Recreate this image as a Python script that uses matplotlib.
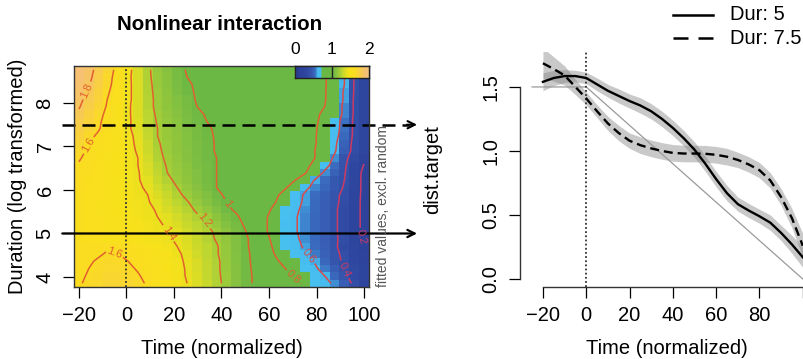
import numpy as np
import matplotlib
matplotlib.use("Agg")
import matplotlib.pyplot as plt
from matplotlib.colors import LinearSegmentedColormap
from matplotlib.lines import Line2D

plt.rcParams['font.family'] = ['Liberation Sans', 'DejaVu Sans']

# left panel: fitted surface on a 30 x 30 grid (rows listed top -> bottom)
time_grid = np.linspace(-20, 100, 30)
dur_grid = np.linspace(3.855, 8.765, 30)
fit = np.array([
    [1.91,1.84,1.76,1.66,1.55,1.44,1.33,1.22,1.15,1.10,1.04,0.99,0.98,0.97,0.96,0.94,0.93,0.92,0.90,0.89,0.88,0.86,0.85,0.84,0.82,0.81,0.76,0.60,0.40,0.28],
    [1.90,1.83,1.74,1.64,1.54,1.43,1.33,1.22,1.16,1.11,1.05,1.00,0.99,0.97,0.96,0.95,0.93,0.92,0.90,0.89,0.88,0.86,0.85,0.84,0.82,0.81,0.75,0.60,0.40,0.28],
    [1.87,1.81,1.72,1.63,1.53,1.43,1.34,1.23,1.16,1.11,1.06,1.01,0.99,0.98,0.96,0.95,0.93,0.92,0.91,0.89,0.88,0.86,0.85,0.84,0.82,0.81,0.74,0.60,0.39,0.28],
    [1.85,1.78,1.70,1.61,1.52,1.43,1.34,1.23,1.17,1.12,1.07,1.02,0.99,0.98,0.97,0.95,0.94,0.92,0.91,0.89,0.88,0.87,0.85,0.84,0.82,0.81,0.72,0.58,0.39,0.28],
    [1.83,1.76,1.68,1.59,1.51,1.43,1.34,1.24,1.17,1.13,1.08,1.04,0.99,0.98,0.97,0.95,0.94,0.92,0.91,0.89,0.88,0.87,0.85,0.84,0.82,0.81,0.72,0.58,0.38,0.28],
    [1.81,1.74,1.66,1.58,1.50,1.42,1.34,1.24,1.17,1.13,1.09,1.05,1.00,0.99,0.97,0.96,0.94,0.93,0.91,0.90,0.88,0.87,0.85,0.83,0.82,0.80,0.72,0.56,0.38,0.28],
    [1.78,1.71,1.64,1.56,1.49,1.42,1.34,1.25,1.18,1.14,1.10,1.06,1.02,0.99,0.98,0.96,0.94,0.93,0.91,0.90,0.88,0.86,0.85,0.83,0.81,0.79,0.72,0.56,0.38,0.28],
    [1.75,1.68,1.62,1.55,1.49,1.42,1.35,1.26,1.19,1.15,1.11,1.07,1.03,1.00,0.98,0.96,0.95,0.93,0.91,0.90,0.88,0.86,0.85,0.83,0.81,0.78,0.67,0.54,0.37,0.28],
    [1.72,1.66,1.61,1.54,1.48,1.42,1.35,1.27,1.20,1.16,1.12,1.08,1.05,1.01,0.99,0.97,0.95,0.93,0.92,0.90,0.88,0.86,0.85,0.83,0.81,0.76,0.66,0.54,0.37,0.28],
    [1.69,1.63,1.58,1.53,1.48,1.43,1.37,1.28,1.20,1.16,1.13,1.09,1.05,1.02,0.99,0.97,0.96,0.94,0.92,0.90,0.88,0.86,0.84,0.83,0.81,0.74,0.65,0.52,0.37,0.28],
    [1.66,1.60,1.55,1.51,1.47,1.43,1.38,1.30,1.21,1.17,1.13,1.09,1.06,1.03,0.99,0.98,0.96,0.94,0.92,0.90,0.88,0.86,0.84,0.82,0.81,0.73,0.63,0.49,0.36,0.28],
    [1.64,1.58,1.55,1.51,1.47,1.43,1.39,1.30,1.22,1.17,1.13,1.10,1.06,1.03,0.99,0.98,0.96,0.94,0.92,0.90,0.88,0.86,0.84,0.82,0.80,0.72,0.62,0.47,0.36,0.28],
    [1.61,1.57,1.54,1.50,1.47,1.43,1.40,1.32,1.23,1.18,1.14,1.10,1.07,1.03,1.00,0.98,0.96,0.94,0.92,0.90,0.88,0.86,0.84,0.82,0.80,0.71,0.57,0.44,0.33,0.24],
    [1.59,1.56,1.53,1.50,1.46,1.43,1.40,1.33,1.25,1.19,1.15,1.11,1.07,1.04,1.00,0.98,0.96,0.94,0.92,0.90,0.87,0.85,0.84,0.82,0.78,0.66,0.53,0.42,0.31,0.19],
    [1.58,1.56,1.53,1.50,1.47,1.43,1.41,1.34,1.27,1.20,1.16,1.12,1.08,1.04,1.00,0.98,0.96,0.94,0.91,0.89,0.87,0.85,0.83,0.81,0.71,0.57,0.49,0.41,0.29,0.16],
    [1.57,1.54,1.51,1.49,1.46,1.43,1.41,1.36,1.29,1.23,1.17,1.13,1.08,1.04,1.00,0.98,0.95,0.93,0.90,0.88,0.85,0.83,0.80,0.71,0.59,0.53,0.46,0.40,0.28,0.16],
    [1.56,1.53,1.51,1.49,1.46,1.44,1.42,1.38,1.32,1.26,1.20,1.15,1.10,1.05,1.00,0.97,0.95,0.92,0.89,0.86,0.84,0.81,0.74,0.63,0.56,0.50,0.45,0.39,0.28,0.16],
    [1.55,1.53,1.51,1.48,1.46,1.44,1.42,1.40,1.34,1.29,1.23,1.17,1.12,1.08,1.03,0.98,0.95,0.92,0.88,0.85,0.82,0.76,0.67,0.58,0.53,0.48,0.43,0.37,0.27,0.16],
    [1.54,1.52,1.50,1.48,1.46,1.44,1.43,1.41,1.36,1.31,1.26,1.21,1.15,1.10,1.05,1.00,0.96,0.92,0.88,0.84,0.80,0.72,0.64,0.58,0.52,0.47,0.43,0.36,0.26,0.16],
    [1.54,1.52,1.50,1.49,1.47,1.45,1.43,1.42,1.39,1.33,1.29,1.24,1.18,1.14,1.08,1.03,0.98,0.93,0.88,0.83,0.77,0.69,0.62,0.57,0.52,0.47,0.42,0.35,0.26,0.16],
    [1.54,1.52,1.51,1.49,1.47,1.46,1.44,1.42,1.40,1.36,1.32,1.27,1.22,1.18,1.12,1.07,1.02,0.95,0.88,0.81,0.75,0.68,0.61,0.56,0.51,0.47,0.42,0.35,0.26,0.16],
    [1.54,1.53,1.51,1.49,1.48,1.46,1.45,1.43,1.41,1.39,1.34,1.29,1.25,1.20,1.15,1.09,1.04,0.98,0.89,0.81,0.74,0.67,0.61,0.56,0.51,0.47,0.42,0.35,0.26,0.16],
    [1.54,1.53,1.51,1.50,1.48,1.47,1.45,1.43,1.42,1.40,1.36,1.32,1.27,1.23,1.18,1.12,1.06,1.00,0.90,0.81,0.75,0.68,0.61,0.56,0.51,0.47,0.42,0.35,0.26,0.16],
    [1.54,1.53,1.52,1.50,1.49,1.47,1.46,1.44,1.43,1.41,1.39,1.34,1.29,1.24,1.19,1.14,1.08,1.02,0.93,0.83,0.76,0.69,0.62,0.57,0.52,0.47,0.42,0.36,0.27,0.18],
    [1.56,1.57,1.58,1.59,1.58,1.55,1.52,1.49,1.46,1.43,1.40,1.35,1.30,1.26,1.21,1.15,1.08,1.02,0.94,0.85,0.77,0.69,0.64,0.58,0.53,0.48,0.42,0.35,0.28,0.20],
    [1.56,1.58,1.59,1.61,1.60,1.57,1.54,1.51,1.48,1.45,1.42,1.37,1.31,1.26,1.21,1.15,1.09,1.03,0.95,0.86,0.79,0.73,0.67,0.61,0.55,0.49,0.43,0.37,0.30,0.22],
    [1.57,1.59,1.61,1.63,1.62,1.60,1.57,1.53,1.50,1.46,1.43,1.38,1.33,1.27,1.22,1.16,1.09,1.03,0.96,0.89,0.82,0.76,0.71,0.65,0.59,0.51,0.44,0.38,0.31,0.24],
    [1.57,1.60,1.62,1.64,1.64,1.62,1.59,1.55,1.51,1.47,1.43,1.39,1.33,1.28,1.22,1.16,1.10,1.03,0.97,0.91,0.86,0.80,0.74,0.68,0.62,0.55,0.47,0.40,0.33,0.26],
    [1.58,1.61,1.63,1.65,1.65,1.63,1.61,1.57,1.52,1.48,1.44,1.39,1.34,1.28,1.22,1.17,1.10,1.03,0.98,0.93,0.88,0.83,0.78,0.72,0.66,0.60,0.51,0.43,0.34,0.26],
    [1.59,1.62,1.64,1.66,1.66,1.65,1.62,1.59,1.53,1.49,1.44,1.40,1.34,1.29,1.23,1.17,1.10,1.03,0.98,0.94,0.91,0.87,0.83,0.78,0.69,0.65,0.57,0.47,0.37,0.26],
])
contour_levels = [0.2, 0.4, 0.6, 0.8, 1.0, 1.2, 1.4, 1.6, 1.8]
label_spots = [(-16.8, 8.29), (-17.6, 7.07), (-5.0, 4.56), (18.1, 5.02), (32.8, 5.30),
               (42.4, 5.69), (70.6, 4.03), (76.9, 4.49), (92.9, 4.20), (98.7, 4.91)]

# right panel: smooths at two durations (fit and half-width of band)
time_pts = [-20, -15, -10, -5, 0, 5, 10, 15, 20, 25, 30, 35, 40, 45, 50,
            55, 60, 65, 70, 75, 80, 85, 90, 95, 100]
dur5 = [1.54, 1.57, 1.585, 1.585, 1.57, 1.52, 1.47, 1.43, 1.39, 1.355, 1.31, 1.25, 1.18,
        1.10, 1.01, 0.90, 0.78, 0.67, 0.585, 0.535, 0.49, 0.44, 0.36, 0.27, 0.17]
se5 = [0.07, 0.06, 0.05, 0.045, 0.045, 0.05, 0.05, 0.055, 0.055, 0.06, 0.06, 0.06, 0.06,
       0.06, 0.06, 0.06, 0.06, 0.06, 0.055, 0.055, 0.055, 0.06, 0.06, 0.07, 0.08]
dur75 = [1.685, 1.64, 1.59, 1.50, 1.41, 1.31, 1.215, 1.14, 1.08, 1.045, 1.02, 1.00, 0.985,
         0.98, 0.98, 0.978, 0.97, 0.955, 0.93, 0.895, 0.85, 0.77, 0.64, 0.475, 0.26]
se75 = [0.12, 0.095, 0.075, 0.06, 0.05, 0.05, 0.055, 0.06, 0.06, 0.065, 0.065, 0.065, 0.065,
        0.065, 0.065, 0.065, 0.065, 0.065, 0.06, 0.06, 0.06, 0.06, 0.065, 0.075, 0.095]
target_x = [-25, 0, 100]
target_y = [1.5, 1.5, 0.0]
legend_labels = ['Dur: 5', 'Dur: 7.5']

W, H = 804, 359
FS = 14.5

cmap = LinearSegmentedColormap.from_list('fitcol', [
    (0.00, '#2b3d92'), (0.15, '#2f47a0'), (0.22, '#3656ae'), (0.27, '#3b6fc2'),
    (0.30, '#46bbef'), (0.349, '#48c0f0'), (0.351, '#6bb844'), (0.50, '#6bb844'),
    (0.53, '#7bbe42'), (0.58, '#98c93c'), (0.63, '#bdd631'), (0.68, '#e3df22'),
    (0.73, '#f8e21b'), (0.80, '#fbdc22'), (0.86, '#f9d042'), (0.92, '#f7c466'),
    (1.00, '#f5bf85')])

fig = plt.figure(figsize=(W / 100, H / 100), dpi=100)

# ---------------- left panel ----------------
ax1 = fig.add_axes([74 / W, 1 - 287 / H, 295 / W, 221 / H])
hx = (time_grid[1] - time_grid[0]) / 2
hy = (dur_grid[1] - dur_grid[0]) / 2
ax1.imshow(fit, cmap=cmap, vmin=0, vmax=2, aspect='auto', interpolation='nearest',
           extent=(time_grid[0] - hx, time_grid[-1] + hx, dur_grid[0] - hy, dur_grid[-1] + hy))
line_cols = ['#c93a6a', '#cc3a62', '#d84a48', '#e2602e', '#e2602e', '#e2602e',
             '#e2602e', '#e2602e', '#e2602e']
cs = ax1.contour(time_grid, dur_grid, fit[::-1], levels=contour_levels,
                 colors=line_cols, linewidths=1.1)
ax1.clabel(cs, fmt='%g', fontsize=8, inline=True, inline_spacing=2, manual=label_spots)
ax1.axvline(0, color='#333333', lw=1.3, ls=(0, (1, 1.3)))
ax1.set_xlim(time_grid[0] - hx, time_grid[-1] + hx)
ax1.set_ylim(dur_grid[0] - hy, dur_grid[-1] + hy)

ax1.set_xticks([-20, 0, 20, 40, 60, 80, 100])
ax1.set_yticks([4, 5, 6, 7, 8])
ax1.set_yticklabels(['4', '5', '6', '7', '8'], rotation=90, va='center')
ax1.tick_params(direction='out', length=8, width=0.9, labelsize=FS, pad=6)
for s in ax1.spines.values():
    s.set_linewidth(1.0)
    s.set_color('#333333')

# arrows marking the two durations
ax1.plot([-27, 119], [7.5, 7.5], color='black', lw=1.8, dashes=(5.2, 2.8), clip_on=False)
ax1.annotate('', xy=(122.3, 7.5), xytext=(118, 7.5), annotation_clip=False,
             arrowprops=dict(arrowstyle='->', lw=1.5, color='black', mutation_scale=13,
                             shrinkA=0, shrinkB=0))
ax1.annotate('', xy=(122.3, 5), xytext=(-27, 5), annotation_clip=False,
             arrowprops=dict(arrowstyle='->', lw=1.6, color='black', mutation_scale=13,
                             shrinkA=0, shrinkB=0))

# colour key in the top right corner
key = ax1.inset_axes([0.749, 0.946, 0.251, 0.054])
key.imshow(np.linspace(0, 2, 300)[None, :], cmap=cmap, vmin=0, vmax=2, aspect='auto',
           extent=(0, 2, 0, 1))
key.axvline(1, color='#222222', lw=1)
key.set_xlim(0, 2)
key.set_ylim(0, 1)
key.set_xticks([])
key.set_yticks([])
for s in key.spines.values():
    s.set_color('#222222')
    s.set_linewidth(1)
for v in [0, 1, 2]:
    key.text(v, 2.35, str(v), ha='center', va='center', fontsize=12.5)

# ---------------- right panel ----------------
ax2 = fig.add_axes([520 / W, 1 - 287 / H, 293.6 / W, 235 / H])
t = np.array(time_pts)
f5, s5 = np.array(dur5), np.array(se5)
f75, s75 = np.array(dur75), np.array(se75)
ax2.fill_between(t, f5 - s5, f5 + s5, color='#808080', alpha=0.42, lw=0)
ax2.fill_between(t, f75 - s75, f75 + s75, color='#808080', alpha=0.42, lw=0)
ax2.plot(target_x, target_y, color='#9a9a9a', lw=0.9)
ax2.axvline(0, color='#333333', lw=1.3, ls=(0, (1, 1.3)))
ax2.plot(t, f5, color='black', lw=1.7)
ax2.plot(t, f75, color='black', lw=1.7, dashes=(3.8, 2.1))
ax2.set_xlim(-30.6, 105)
ax2.set_ylim(-0.0625, 1.773)
ax2.spines['top'].set_visible(False)
ax2.spines['right'].set_visible(False)
ax2.spines['left'].set_bounds(0, 1.5)
ax2.spines['bottom'].set_bounds(-20, 100)
ax2.set_xticks([-20, 0, 20, 40, 60, 80, 100])
ax2.set_xticklabels(['\u221220', '0', '20', '40', '60', '80', ''])
ax2.set_yticks([0, 0.5, 1.0, 1.5])
ax2.set_yticklabels(['0.0', '0.5', '1.0', '1.5'], rotation=90, va='center')
ax2.tick_params(direction='out', length=8, width=0.9, labelsize=FS, pad=6)
for s in ['left', 'bottom']:
    ax2.spines[s].set_linewidth(1.0)
    ax2.spines[s].set_color('#333333')

# legend
fig.add_artist(Line2D([673 / W, 713 / W], [1 - 15 / H] * 2, color='black', lw=1.8))
fig.add_artist(Line2D([673 / W, 713 / W], [1 - 38 / H] * 2, color='black', lw=1.8,
                      dashes=(6, 4)))
fig.text(730 / W, 1 - 15 / H, legend_labels[0], va='center', fontsize=FS)
fig.text(730 / W, 1 - 38 / H, legend_labels[1], va='center', fontsize=FS)

# titles / labels
fig.text(220 / W, 1 - 25 / H, 'Nonlinear interaction', ha='center', va='center',
         fontsize=14.8, fontweight='bold')
fig.text(18 / W, 1 - 176 / H, 'Duration (log transformed)', rotation=90, ha='center',
         va='center', fontsize=FS)
fig.text(222 / W, 1 - 348 / H, 'Time (normalized)', ha='center', va='center', fontsize=FS)
fig.text(667 / W, 1 - 348 / H, 'Time (normalized)', ha='center', va='center', fontsize=FS)
fig.text(433 / W, 1 - 170 / H, 'dist.target', rotation=90, ha='center', va='center',
         fontsize=FS)
fig.text(383 / W, 1 - 287 / H, 'fitted values, excl. random', rotation=90, ha='center',
         va='bottom', fontsize=10, color='#555555')

fig.savefig('out.png', dpi=100)
